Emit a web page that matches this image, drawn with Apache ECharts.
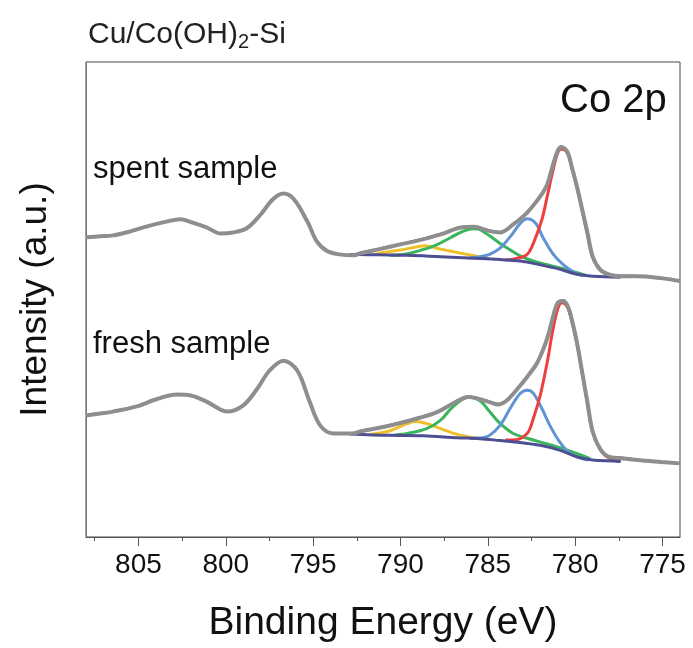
<!DOCTYPE html>
<html>
<head>
<meta charset="utf-8">
<script src="https://cdn.jsdelivr.net/npm/echarts@6/dist/echarts.min.js"></script>
<style>
  html, body { margin: 0; padding: 0; background: #fff; }
  #main { width: 693px; height: 648px; }
</style>
</head>
<body>
<div id="main"></div>
<script>
// x axis ticks (binding energy, eV)
var majorTicks = [775, 780, 785, 790, 795, 800, 805];
var minorTicks = [777.5, 782.5, 787.5, 792.5, 797.5, 802.5, 807.5];

// spent sample - raw spectrum
var spentE = [808.0, 807.2, 806.45, 805.5, 804.5, 803.4, 802.6, 801.9, 801.1, 800.3, 799.6, 798.8, 798.0, 797.3, 796.7, 796.1, 795.3, 794.8, 794.2, 793.5, 792.7, 792.3, 791.2, 790.0, 788.9, 787.7, 786.6, 785.8, 785.0, 784.3, 783.55, 782.75, 782.0, 781.6, 781.3, 781.0, 780.8, 780.45, 780.2, 779.9, 779.6, 779.3, 779.0, 778.6, 778.1, 777.4, 776.45, 775.1, 774.0];
var spentI = [63.1, 63.3, 63.5, 64.3, 65.4, 66.4, 66.9, 66.2, 65.2, 63.9, 64.1, 65.0, 67.9, 71.1, 72.3, 71.1, 66.2, 62.3, 60.2, 59.5, 59.3, 59.7, 60.6, 61.6, 62.5, 63.7, 65.1, 65.3, 64.5, 64.1, 65.8, 68.3, 71.7, 74.2, 78.0, 81.3, 82.1, 81.1, 78.0, 73.8, 69.0, 64.1, 59.1, 56.4, 55.3, 54.9, 54.9, 54.5, 53.9];
// spent sample - fit envelope
var spentFitE = [792.7, 792.3, 791.2, 790.0, 788.9, 787.7, 786.6, 785.8, 785.0, 784.3, 783.55, 782.75, 782.0, 781.6, 781.3, 781.0, 780.8, 780.45, 780.2, 779.9, 779.6, 779.3, 779.0, 778.6, 778.1, 777.4, 776.45];
var spentFit = [59.5, 59.9, 60.8, 61.8, 62.7, 63.9, 65.3, 65.5, 64.7, 64.3, 66.0, 68.5, 71.9, 74.4, 78.2, 81.5, 82.3, 81.3, 78.2, 74.0, 69.2, 64.3, 59.3, 56.6, 55.5, 55.1, 55.1];
// spent sample - fitted components
var spentBgE = [792.9, 791.2, 789.6, 787.7, 785.8, 784.3, 783.15, 782.0, 780.9, 779.9, 779.0, 777.4];
var spentBg = [59.5, 59.4, 59.3, 59.0, 58.7, 58.4, 58.1, 57.3, 56.4, 55.3, 54.9, 54.7];
var spentYellowE = [791.45, 791.0, 790.0, 789.05, 788.6, 787.7, 786.75, 785.8, 785.3, 784.9];
var spentYellow = [59.5, 59.9, 60.4, 61.1, 61.3, 60.6, 59.9, 59.2, 58.8, 58.6];
var spentGreenE = [790.6, 789.7, 788.9, 788.0, 787.15, 786.4, 785.8, 785.45, 784.9, 784.3, 783.7, 783.15, 782.4, 781.6, 780.45, 779.4];
var spentGreen = [59.3, 59.6, 60.3, 61.4, 63.0, 64.4, 64.9, 64.7, 63.4, 61.8, 60.4, 59.2, 58.1, 57.3, 56.3, 55.1];
var spentBlueE = [786.0, 785.45, 784.9, 784.3, 783.7, 783.15, 782.75, 782.25, 781.85, 781.25, 780.7, 780.1, 779.55];
var spentBlue = [58.8, 59.0, 59.5, 60.8, 63.3, 66.0, 67.0, 66.0, 63.1, 59.5, 57.4, 55.8, 55.0];
var spentRedE = [784.0, 783.55, 782.75, 782.3, 781.9, 781.6, 781.3, 781.0, 780.8, 780.45, 780.2, 779.9, 779.6, 779.3, 779.0, 778.4, 777.8];
var spentRed = [58.3, 58.5, 59.5, 62.7, 66.9, 71.7, 76.7, 80.9, 81.7, 80.9, 77.8, 73.6, 68.7, 63.7, 58.9, 55.8, 54.8];

// fresh sample - raw spectrum
var freshE = [808.0, 807.2, 806.45, 805.1, 803.9, 802.8, 802.0, 801.1, 799.9, 799.0, 798.2, 797.5, 796.7, 795.9, 795.2, 794.6, 793.85, 792.7, 792.3, 791.2, 790.0, 788.9, 787.9, 787.0, 786.1, 785.45, 784.9, 784.4, 783.9, 783.3, 782.75, 782.2, 781.85, 781.55, 781.25, 781.0, 780.7, 780.45, 780.2, 779.9, 779.6, 779.3, 779.0, 778.6, 778.1, 777.4, 776.45, 775.1, 774.0];
var freshI = [25.6, 26.0, 26.4, 27.5, 29.1, 30.0, 29.8, 28.5, 26.4, 27.7, 31.2, 35.0, 37.1, 35.0, 28.5, 23.5, 21.8, 21.8, 22.2, 23.0, 24.0, 25.1, 26.3, 28.1, 29.5, 29.0, 28.4, 27.9, 28.8, 31.2, 33.7, 36.5, 39.3, 42.4, 46.6, 49.3, 49.7, 48.8, 45.9, 41.0, 34.7, 28.4, 22.2, 18.7, 16.9, 16.6, 16.2, 15.8, 15.5];
// fresh sample - fit envelope
var freshFitE = [792.7, 792.3, 791.2, 790.0, 788.9, 787.9, 787.0, 786.1, 785.45, 784.9, 784.4, 783.9, 783.3, 782.75, 782.2, 781.85, 781.55, 781.25, 781.0, 780.7, 780.45, 780.2, 779.9, 779.6, 779.3, 779.0, 778.6, 778.1, 777.4, 776.45];
var freshFit = [22.0, 22.4, 23.2, 24.2, 25.3, 26.5, 28.3, 29.7, 29.2, 28.6, 28.1, 29.0, 31.4, 33.9, 36.7, 39.5, 42.6, 46.8, 49.5, 49.9, 49.0, 46.1, 41.2, 34.9, 28.6, 22.4, 18.9, 17.1, 16.8, 16.4];
// fresh sample - fitted components
var freshBgE = [792.9, 790.6, 788.7, 786.75, 785.45, 784.3, 783.15, 782.0, 780.9, 779.9, 779.0, 777.8, 777.4];
var freshBg = [21.7, 21.4, 21.3, 20.9, 20.7, 20.3, 19.9, 19.3, 18.3, 16.9, 16.2, 16.0, 15.9];
var freshYellowE = [791.75, 790.75, 789.85, 789.15, 788.5, 787.7, 786.75, 785.8, 785.45];
var freshYellow = [21.6, 22.2, 23.5, 24.3, 23.9, 22.8, 21.6, 20.9, 20.7];
var freshGreenE = [790.3, 789.6, 788.5, 787.7, 787.0, 786.1, 785.45, 784.9, 784.3, 783.55, 782.75, 781.6, 780.45, 779.7, 779.15];
var freshGreen = [21.5, 21.8, 22.8, 24.6, 27.4, 29.5, 28.7, 26.4, 23.9, 21.8, 20.8, 19.6, 18.3, 17.3, 16.5];
var freshBlueE = [786.0, 785.3, 784.9, 784.3, 783.7, 783.15, 782.75, 782.4, 781.9, 781.45, 780.9, 780.3, 779.7, 779.25];
var freshBlue = [20.8, 20.9, 21.4, 23.5, 27.2, 30.2, 30.9, 30.3, 27.0, 23.5, 20.1, 17.6, 16.6, 16.2];
var freshRedE = [784.0, 783.55, 782.75, 782.4, 782.0, 781.6, 781.3, 781.0, 780.75, 780.45, 780.2, 779.9, 779.6, 779.3, 779.0, 778.4, 777.8, 777.4];
var freshRed = [20.4, 20.4, 21.8, 24.9, 29.8, 36.8, 43.1, 48.0, 49.3, 48.4, 45.5, 40.7, 34.6, 28.1, 22.2, 17.6, 16.2, 16.0];

var FONT = "'Liberation Sans', Arial, sans-serif";

function pairs(xs, ys) {
  return xs.map(function (x, i) { return [x, ys[i]]; });
}
function line(name, xs, ys, color, width, z) {
  return {
    name: name, type: 'line', data: pairs(xs, ys),
    showSymbol: false, smooth: 0.35, silent: true,
    lineStyle: { color: color, width: width },
    z: z
  };
}

var RED = '#ef3e3e', BLUE = '#5f93d3', GREEN = '#3bb55b', YELLOW = '#f0c02a', BG = '#4d4f92', RAW = '#8e8e8e';

var chart = echarts.init(document.getElementById('main'));
chart.setOption({
  animation: false,
  grid: { left: 86, right: 13, top: 62, bottom: 109, show: true, borderColor: '#444', borderWidth: 1 },
  xAxis: [{
    type: 'value', min: 774, max: 808, inverse: true,
    name: 'Binding Energy (eV)', nameLocation: 'middle', nameGap: 67,
    nameTextStyle: { fontSize: 39, color: '#111', fontFamily: FONT },
    axisLine: { show: true, lineStyle: { color: '#555', width: 1 } },
    axisTick: { show: true, inside: false, length: 9, customValues: majorTicks, lineStyle: { color: '#555' } },
    axisLabel: { customValues: majorTicks, fontSize: 28, color: '#111', margin: 14, fontFamily: FONT },
    splitLine: { show: false }
  }, {
    type: 'value', min: 774, max: 808, inverse: true, position: 'bottom',
    axisLine: { show: false },
    axisTick: { show: true, inside: false, length: 4, customValues: minorTicks, lineStyle: { color: '#555' } },
    axisLabel: { show: false },
    splitLine: { show: false }
  }],
  yAxis: {
    type: 'value', min: 0, max: 100,
    name: 'Intensity (a.u.)', nameLocation: 'middle', nameGap: 32,
    nameTextStyle: { fontSize: 37, color: '#111', fontFamily: FONT },
    axisLine: { show: true, lineStyle: { color: '#777' } },
    axisTick: { show: false }, axisLabel: { show: false }, splitLine: { show: false }
  },
  title: {
    text: '{a|Cu/Co(OH)}{s|2}{a|-Si}', left: 83, top: 13,
    textStyle: {
      rich: {
        a: { fontSize: 30, fontWeight: 'normal', color: '#222', fontFamily: FONT, lineHeight: 34 },
        s: { fontSize: 20, fontWeight: 'normal', color: '#222', fontFamily: FONT, lineHeight: 20, padding: [14, 0, 0, 0] }
      }
    }
  },
  graphic: [
    { type: 'text', left: 560, top: 81, style: { text: 'Co 2p', font: '40px ' + FONT, fill: '#111' } },
    { type: 'text', left: 93, top: 154, style: { text: 'spent sample', font: '31px ' + FONT, fill: '#111' } },
    { type: 'text', left: 93, top: 329, style: { text: 'fresh sample', font: '31px ' + FONT, fill: '#111' } }
  ],
  series: [
    line('spent yellow', spentYellowE, spentYellow, YELLOW, 3, 2),
    line('spent green', spentGreenE, spentGreen, GREEN, 3, 2),
    line('spent blue', spentBlueE, spentBlue, BLUE, 3, 2),
    line('spent red', spentRedE, spentRed, RED, 3, 2),
    line('spent background', spentBgE, spentBg, BG, 3, 3),
    line('spent fit', spentFitE, spentFit, '#333', 1.3, 4),
    line('spent raw', spentE, spentI, RAW, 4, 5),
    line('fresh yellow', freshYellowE, freshYellow, YELLOW, 3, 2),
    line('fresh green', freshGreenE, freshGreen, GREEN, 3, 2),
    line('fresh blue', freshBlueE, freshBlue, BLUE, 3, 2),
    line('fresh red', freshRedE, freshRed, RED, 3, 2),
    line('fresh background', freshBgE, freshBg, BG, 3, 3),
    line('fresh fit', freshFitE, freshFit, '#333', 1.3, 4),
    line('fresh raw', freshE, freshI, RAW, 4, 5)
  ]
});
</script>
</body>
</html>
